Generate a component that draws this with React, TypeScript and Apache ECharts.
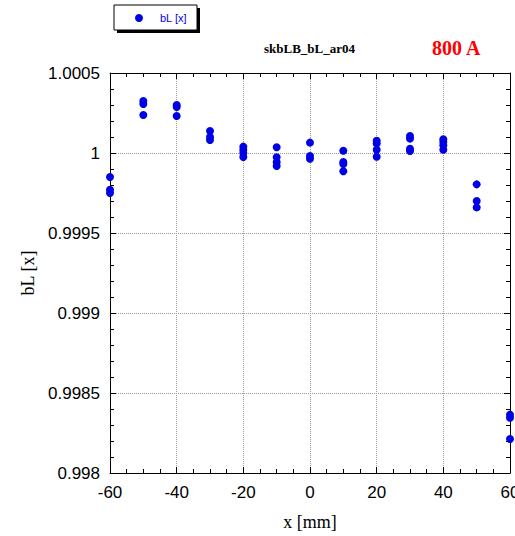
import React, { useEffect, useRef } from "react";
import * as echarts from "echarts";

const xPositions = [-60, -50, -40, -30, -20, -10, 0, 10, 20, 30, 40, 50, 60];
const bLValues: number[][] = [
  [0.99985, 0.99977, 0.99975],
  [1.000325, 1.000306, 1.000238],
  [1.0003, 1.000288, 1.000231],
  [1.000138, 1.0001, 1.000081],
  [1.00004, 1.00002, 1.0, 0.999975],
  [1.000036, 0.999973, 0.999942, 0.999919],
  [1.000065, 0.999981, 0.999964],
  [1.000014, 0.999944, 0.999931, 0.999886],
  [1.000077, 1.00006, 1.00002, 0.999977],
  [1.000106, 1.00009, 1.000027, 1.000012],
  [1.000086, 1.000069, 1.000048, 1.00002],
  [0.999804, 0.9997, 0.99966],
  [0.998365, 0.998345, 0.998213],
];
const seriesName = "bL [x]";
const titleText = "skbLB_bL_ar04";
const currentText = "800 A";

export default function App() {
  const ref = useRef<HTMLDivElement>(null);
  useEffect(() => {
    if (!ref.current) return;
    document.body.style.margin = "0";
    document.body.style.overflow = "hidden";
    document.documentElement.style.overflow = "hidden";
    const chart = echarts.init(ref.current, null, { renderer: "svg", width: 515, height: 536 });
    const points: number[][] = [];
    xPositions.forEach((x, i) => bLValues[i].forEach((v) => points.push([x, v])));
    const blue = "#0000e6";
    const sans = "Liberation Sans";
    const serif = "Liberation Serif";
    const axisCommon = {
      axisLine: { show: true, onZero: false, lineStyle: { color: "#000", width: 1 } },
      axisTick: { show: true, inside: true, length: 6, lineStyle: { color: "#000" } },
      minorTick: { show: true, length: 4, lineStyle: { color: "#000" } },
    };
    chart.setOption({
      animation: false,
      backgroundColor: "#fff",
      title: [
        {
          text: titleText,
          left: 259,
          top: 37,
          textStyle: { fontFamily: serif, fontWeight: "bold", fontSize: 13, color: "#000" },
        },
        {
          text: currentText,
          left: 427,
          top: 33,
          textStyle: { fontFamily: serif, fontWeight: "bold", fontSize: 20, color: "#ff0000" },
        },
      ],
      grid: {
        left: 110,
        top: 73,
        right: 5,
        bottom: 63,
        containLabel: false,
        outerBoundsMode: "none",
      },
      xAxis: [
        {
          type: "value",
          min: -60,
          max: 60,
          interval: 20,
          position: "bottom",
          ...axisCommon,
          minorTick: { ...axisCommon.minorTick, splitNumber: 4 },
          axisLabel: { fontFamily: sans, fontSize: 17, color: "#000", margin: 11 },
          splitLine: { show: true, lineStyle: { color: "#999", type: "dotted", width: 1 } },
          name: "x [mm]",
          nameLocation: "middle",
          nameGap: 40,
          nameTextStyle: { fontFamily: serif, fontSize: 18, color: "#000" },
        },
        {
          type: "value",
          min: -60,
          max: 60,
          interval: 20,
          position: "top",
          ...axisCommon,
          minorTick: { ...axisCommon.minorTick, splitNumber: 4 },
          axisLabel: { show: false },
          splitLine: { show: false },
        },
      ],
      yAxis: [
        {
          type: "value",
          min: 0.998,
          max: 1.0005,
          interval: 0.0005,
          position: "left",
          ...axisCommon,
          minorTick: { ...axisCommon.minorTick, splitNumber: 5 },
          axisLabel: {
            fontFamily: sans,
            fontSize: 17,
            color: "#000",
            margin: 10,
            formatter: (v: number) => String(parseFloat(v.toFixed(4))),
          },
          splitLine: { show: true, lineStyle: { color: "#999", type: "dotted", width: 1 } },
          name: seriesName,
          nameLocation: "middle",
          nameGap: 72,
          nameRotate: 90,
          nameTextStyle: { fontFamily: serif, fontSize: 18, color: "#000" },
        },
        {
          type: "value",
          min: 0.998,
          max: 1.0005,
          interval: 0.0005,
          position: "right",
          ...axisCommon,
          minorTick: { ...axisCommon.minorTick, splitNumber: 5 },
          axisLabel: { show: false },
          splitLine: { show: false },
        },
      ],
      series: [
        {
          name: seriesName,
          type: "scatter",
          xAxisIndex: 0,
          yAxisIndex: 0,
          data: points,
          symbol: "circle",
          symbolSize: 8,
          clip: false,
          itemStyle: { color: blue, opacity: 1 },
          z: 5,
        },
      ],
      graphic: [
        { type: "rect", shape: { x: 117, y: 8, width: 83, height: 25 }, style: { fill: "#000" }, z: 10 },
        {
          type: "rect",
          shape: { x: 114, y: 5, width: 83, height: 25 },
          style: { fill: "#fff", stroke: "#000", lineWidth: 1 },
          z: 11,
        },
        { type: "circle", shape: { cx: 139, cy: 18, r: 4 }, style: { fill: blue }, z: 12 },
        {
          type: "text",
          x: 160,
          y: 18,
          style: { text: seriesName, fill: blue, font: `11px "${sans}"`, verticalAlign: "middle" },
          z: 12,
        },
      ],
    });
    return () => chart.dispose();
  }, []);
  return (
    <div
      ref={ref}
      style={{ position: "fixed", left: 0, top: 0, width: 515, height: 536 }}
    />
  );
}
